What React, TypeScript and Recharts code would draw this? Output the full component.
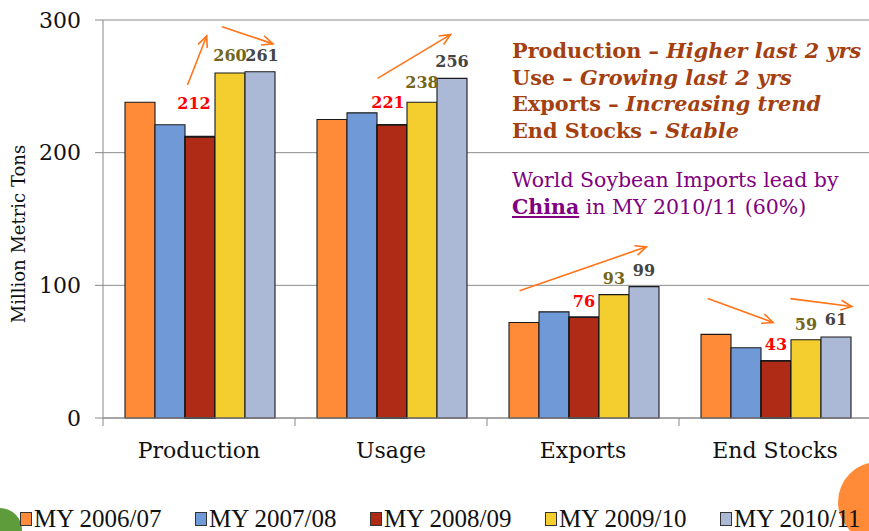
import React from "react";
import { BarChart, Bar, XAxis, YAxis, CartesianGrid, ReferenceLine, LabelList, ScatterChart } from "recharts";

const categories = ["Production", "Usage", "Exports", "End Stocks"];
const my200607 = [238, 225, 72, 63];
const my200708 = [221, 230, 80, 53];
const my200809 = [212, 221, 76, 43];
const my200910 = [260, 238, 93, 59];
const my201011 = [261, 256, 99, 61];
const yTicks = [0, 100, 200, 300];

// trend arrows in (category position 0..4, value) units
const trendArrows = [
  { from: [0.44, 251], to: [0.54, 288] },
  { from: [0.62, 295], to: [0.885, 282] },
  { from: [1.43, 256], to: [1.81, 289] },
  { from: [2.17, 96], to: [2.83, 129] },
  { from: [3.15, 90], to: [3.49, 72] },
  { from: [3.58, 90], to: [3.9, 84] },
];

const notes = [
  { lead: "Production – ", tail: "Higher last 2 yrs" },
  { lead: "Use – ", tail: "Growing last 2 yrs" },
  { lead: "Exports – ", tail: "Increasing trend" },
  { lead: "End Stocks - ", tail: "Stable" },
];

const series = [
  { key: "a", name: "MY 2006/07", values: my200607, fill: "#FF8A38" },
  { key: "b", name: "MY 2007/08", values: my200708, fill: "#7099D8" },
  { key: "c", name: "MY 2008/09", values: my200809, fill: "#B02B16" },
  { key: "d", name: "MY 2009/10", values: my200910, fill: "#F4CD2E" },
  { key: "e", name: "MY 2010/11", values: my201011, fill: "#ABB8D6" },
];

const data = categories.map((cat, i) => {
  const row: any = { cat };
  series.forEach((s) => (row[s.key] = s.values[i]));
  return row;
});

const serif = "'DejaVu Serif', serif";
const W = 880;
const H = 490;
const M = { top: 20, right: 9, left: 103, bottom: 72 };

const makeLabel = (color: string, lifts: number[], shifts: number[]) => (props: any) => {
  const { x, y, width, value, index } = props;
  return (
    <text
      x={x + width / 2 + (shifts[index] || 0)}
      y={y - (lifts[index] ?? 11)}
      textAnchor="middle"
      fill={color}
      fontWeight="bold"
      fontSize={16}
      fontFamily={serif}
    >
      {value}
    </text>
  );
};

const Arrow = (props: any) => {
  const { x1, y1, x2, y2 } = props;
  const ang = Math.atan2(y2 - y1, x2 - x1);
  const len = 12;
  const spread = 0.42;
  const ax = x2 - len * Math.cos(ang - spread);
  const ay = y2 - len * Math.sin(ang - spread);
  const bx = x2 - len * Math.cos(ang + spread);
  const by = y2 - len * Math.sin(ang + spread);
  return (
    <g>
      <line x1={x1} y1={y1} x2={x2} y2={y2} stroke="#FF7418" strokeWidth={1.6} />
      <polyline points={`${ax},${ay} ${x2},${y2} ${bx},${by}`} fill="none" stroke="#FF7418" strokeWidth={1.6} />
    </g>
  );
};

const CategoryTick = (props: any) => {
  const { x, y, payload } = props;
  const half = typeof payload.offset === "number" && payload.offset > 10 ? payload.offset : 96;
  return (
    <g>
      <line x1={x - half} x2={x - half} y1={y} y2={y + 8} stroke="#888" />
      <text x={x} y={y + 40} textAnchor="middle" fontSize={22} fontFamily={serif} fill="#111">
        {payload.value}
      </text>
    </g>
  );
};

const YLabel = () => (
  <text
    transform="translate(25, 234) rotate(-90)"
    textAnchor="middle"
    fontSize={18}
    fontFamily={serif}
    fill="#111"
  >
    Million Metric Tons
  </text>
);

export default function App() {
  return (
    <div
      style={{
        position: "absolute",
        left: 0,
        top: 0,
        width: 869,
        height: 531,
        overflow: "hidden",
        background: "#fff",
      }}
    >
      <div style={{ position: "absolute", left: -22, top: 508, width: 44, height: 44, borderRadius: "50%", background: "#5E9B3A" }} />
      <div style={{ position: "absolute", left: 838, top: 462, width: 80, height: 80, borderRadius: "50%", background: "#FF8A38" }} />

      <div style={{ position: "absolute", left: 0, top: 0 }}>
        <BarChart
          width={W}
          height={H}
          data={data}
          margin={{ top: M.top, right: M.right, left: 0, bottom: 22 }}
          barCategoryGap={22}
          barGap={0}
        >
          <CartesianGrid vertical={false} stroke="#8c8c8c" />
          <XAxis
            dataKey="cat"
            height={50}
            tickSize={0}
            tickMargin={0}
            tickLine={false}
            axisLine={{ stroke: "#888" }}
            tick={<CategoryTick />}
            interval={0}
          />
          <YAxis
            width={M.left}
            domain={[0, 300]}
            ticks={yTicks}
            tickSize={8}
            tickMargin={14}
            axisLine={{ stroke: "#888" }}
            tickLine={{ stroke: "#888" }}
            tick={{ fontSize: 22, fontFamily: serif, fill: "#111" }}
            label={<YLabel />}
          />
          {series.map((s) => (
            <Bar
              key={s.key}
              dataKey={s.key}
              name={s.name}
              fill={s.fill}
              stroke="#1a1a1a"
              strokeWidth={s.key === "c" ? 1.8 : 1.1}
              isAnimationActive={false}
            >
              {s.key === "c" && <LabelList dataKey="c" content={makeLabel("#FF0000", [28, 17, 10, 11], [-6, -4, 0, 0])} />}
              {s.key === "d" && <LabelList dataKey="d" content={makeLabel("#74661A", [12, 14, 11, 10], [0, 0, 0, 0])} />}
              {s.key === "e" && <LabelList dataKey="e" content={makeLabel("#454545", [11, 11, 11, 12], [2, 0, 0, 0])} />}
            </Bar>
          ))}
        </BarChart>
      </div>

      {/* overlay with the same plot area, numeric x so arrows can sit between bars */}
      <div style={{ position: "absolute", left: 0, top: 0, pointerEvents: "none" }}>
        <ScatterChart width={W} height={H} margin={M}>
          <XAxis type="number" dataKey="x" domain={[0, 4]} allowDataOverflow hide />
          <YAxis type="number" dataKey="y" domain={[0, 300]} allowDataOverflow hide />
          {trendArrows.map((a, i) => (
            <ReferenceLine
              key={i}
              segment={[
                { x: a.from[0], y: a.from[1] },
                { x: a.to[0], y: a.to[1] },
              ]}
              ifOverflow="visible"
              shape={Arrow}
            />
          ))}
        </ScatterChart>
      </div>

      <div
        style={{
          position: "absolute",
          left: 512,
          top: 38,
          fontFamily: serif,
          fontWeight: "bold",
          fontSize: 20.8,
          lineHeight: "26.7px",
          color: "#A33F10",
          whiteSpace: "nowrap",
        }}
      >
        {notes.map((n, i) => (
          <div key={i}>
            {n.lead}
            <i>{n.tail}</i>
          </div>
        ))}
      </div>
      <div
        style={{
          position: "absolute",
          left: 512,
          top: 167,
          fontFamily: serif,
          fontSize: 20.5,
          lineHeight: "27px",
          color: "#800080",
          whiteSpace: "nowrap",
        }}
      >
        <div>World Soybean Imports lead by</div>
        <div>
          <b style={{ textDecoration: "underline" }}>China</b> in MY 2010/11 (60%)
        </div>
      </div>

      <div style={{ position: "absolute", left: 20, top: 505, display: "flex", whiteSpace: "nowrap" }}>
        {series.map((s) => (
          <div key={s.key} style={{ width: 175, display: "flex", alignItems: "center" }}>
            <span
              style={{
                display: "inline-block",
                width: 10,
                height: 12,
                background: s.fill,
                border: "1px solid #333",
                marginRight: 2,
              }}
            />
            <span style={{ fontFamily: "'Liberation Serif', serif", fontSize: 25, color: "#111" }}>{s.name}</span>
          </div>
        ))}
      </div>
    </div>
  );
}
